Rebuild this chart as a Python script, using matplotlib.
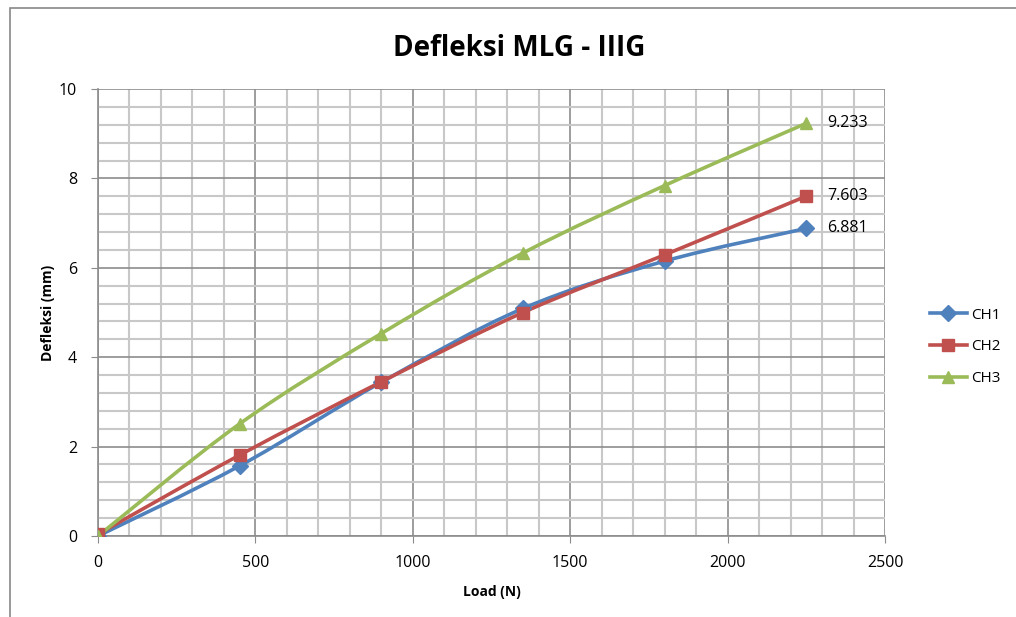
import numpy as np
import matplotlib
matplotlib.use('Agg')
import matplotlib.pyplot as plt
from matplotlib.path import Path
from matplotlib.patches import PathPatch, Rectangle
from matplotlib.lines import Line2D

plt.rcParams['font.family'] = ['Open Sans', 'DejaVu Sans']

# data
load = [0, 450, 900, 1350, 1800, 2250]
ch1 = [0.0, 1.57, 3.44, 5.09, 6.15, 6.881]
ch2 = [0.04, 1.81, 3.45, 5.00, 6.29, 7.603]
ch3 = [0.0, 2.51, 4.53, 6.33, 7.84, 9.233]
series = ['CH1', 'CH2', 'CH3']
colors = ['#4F81BD', '#C0504D', '#9BBB59']
markers = ['D', 's', '^']


def smooth_path(x, y):
    # excel-like smoothed line: cubic bezier with catmull-rom control points
    pts = np.column_stack([np.asarray(x, float), np.asarray(y, float)])
    verts = [pts[0]]
    codes = [Path.MOVETO]
    n = len(pts)
    for i in range(n - 1):
        p0 = pts[max(i - 1, 0)]
        p1 = pts[i]
        p2 = pts[i + 1]
        p3 = pts[min(i + 2, n - 1)]
        verts += [p1 + (p2 - p0) / 6.0, p2 - (p3 - p1) / 6.0, p2]
        codes += [Path.CURVE4] * 3
    return Path(verts, codes)


fig = plt.figure(figsize=(10.16, 6.17), dpi=100)
fig.patches.append(Rectangle((10 / 1016, -0.1), 1.2, 1 - 8 / 617 + 0.1, transform=fig.transFigure,
                             fill=False, edgecolor='#888888', linewidth=1.2, zorder=0))

ax = fig.add_axes([98 / 1016, 1 - 536 / 617, (885 - 98) / 1016, (536 - 89) / 617])

for name, yv, c, m in zip(series, [ch1, ch2, ch3], colors, markers):
    ax.add_patch(PathPatch(smooth_path(load, yv), fill=False, edgecolor=c, linewidth=2.6,
                           capstyle='round', joinstyle='round', zorder=3))
    ms = 8 if m == 'D' else 9
    ax.plot(load, yv, linestyle='none', marker=m, color=c, markersize=ms, zorder=4)
    ax.text(load[-1] + 65, yv[-1], f'{yv[-1]:.3f}', va='center', ha='left', fontsize=11.5, color='black')

ax.set_xlim(0, 2500)
ax.set_ylim(0, 10)
ax.set_xticks(np.arange(0, 2501, 500))
ax.set_xticks(np.arange(0, 2501, 100), minor=True)
ax.set_yticks(np.arange(0, 11, 2))
ax.set_yticks(np.arange(0, 10.01, 0.4), minor=True)
ax.grid(which='minor', color='#C8C8C8', linewidth=1.5, zorder=0)
ax.grid(which='major', color='#8C8C8C', linewidth=1.2, zorder=1)
ax.set_axisbelow(True)
ax.tick_params(which='minor', length=0)
ax.tick_params(which='major', length=5, color='#8C8C8C', labelsize=11.5)
ax.tick_params(axis='x', pad=9)
ax.tick_params(axis='y', pad=10)
for s in ['top', 'right']:
    ax.spines[s].set_visible(False)
for s in ['left', 'bottom']:
    ax.spines[s].set_color('#8C8C8C')
    ax.spines[s].set_linewidth(1.2)

ax.set_title('Defleksi MLG - IIIG', fontsize=20, fontweight='bold', pad=24, x=0.535)
ax.set_xlabel('Load (N)', fontsize=10, fontweight='bold', labelpad=10)
ax.set_ylabel('Defleksi (mm)', fontsize=10, fontweight='bold', labelpad=3)

handles = [Line2D([], [], color=c, marker=m, linewidth=2.6, markersize=8) for c, m in zip(colors, markers)]
fig.legend(handles, series, loc='center left', bbox_to_anchor=(930 / 1016, 1 - 347 / 617),
           frameon=False, fontsize=11, handlelength=2.4, labelspacing=1.1, handletextpad=0.3,
           borderpad=0, borderaxespad=0)

fig.savefig('out.png', dpi=100)
